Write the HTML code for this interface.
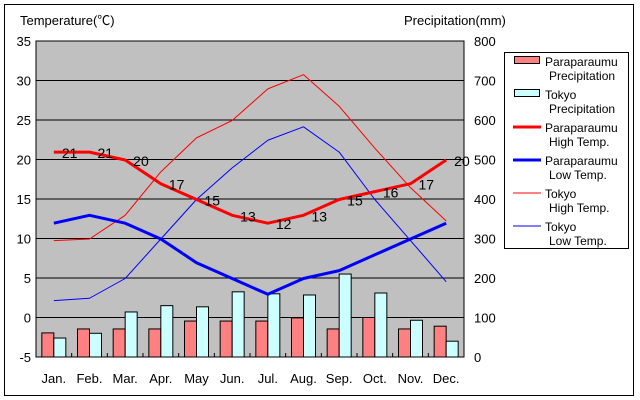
<!DOCTYPE html>
<html><head><meta charset="utf-8"><style>body{margin:0;background:#fff}svg{display:block;font-family:"Liberation Sans","Noto Sans CJK JP",sans-serif}</style></head>
<body><svg id="s" width="640" height="400" xmlns="http://www.w3.org/2000/svg"></svg>
<script>
const s=document.getElementById('s');let h='';
h+='<rect x="4.5" y="4.5" width="629" height="391" fill="#fff" stroke="#000"/>';
const L=36,R=464,T=41,B=357,W=(R-L)/12;
h+=`<rect x="${L}" y="${T}" width="${R-L}" height="${B-T}" fill="#c0c0c0"/>`;
for(let i=0;i<=8;i++){const y=T+i*(B-T)/8;h+=`<line x1="${L}" x2="${R}" y1="${y}" y2="${y}" stroke="#000"/>`;
h+=`<text x="31" y="${y+5}" font-size="13" text-anchor="end">${35-5*i}</text>`;
h+=`<text x="474" y="${y+5}" font-size="13">${800-100*i}</text>`;}
const ty=t=>318-t*7.9, py=p=>B-p*0.395, cx=i=>L+W/2+i*W;
const pp=[61,71,71,71,91,91,91,99,71,100,71,78],tp=[48,60,114,130,127,165,160,157,210,162,93,40];
for(let i=0;i<12;i++){h+=`<rect x="${cx(i)-12}" y="${py(pp[i])}" width="12" height="${B-py(pp[i])}" fill="#ff8080" stroke="#000"/>`;
h+=`<rect x="${cx(i)}" y="${py(tp[i])}" width="12" height="${B-py(tp[i])}" fill="#ccffff" stroke="#000"/>`;
h+=`<line x1="${L+i*W}" x2="${L+i*W}" y1="${B}" y2="${B-4}" stroke="#000"/>`;}
const m=['Jan.','Feb.','Mar.','Apr.','May','Jun.','Jul.','Aug.','Sep.','Oct.','Nov.','Dec.'];
m.forEach((t,i)=>h+=`<text x="${cx(i)}" y="383" font-size="13" text-anchor="middle">${t}</text>`);
h+=`<rect x="${L}" y="${T}" width="${R-L}" height="${B-T}" fill="none" stroke="#000"/>`;
const line=(d,c,w)=>{h+=`<polyline fill="none" stroke="${c}" stroke-width="${w}" stroke-linejoin="round" points="${d.map((v,i)=>cx(i)+','+ty(v)).join(' ')}"/>`;};
const th=[9.8,10,13,18.5,22.8,25,29,30.8,26.8,21.5,16.5,12.3],tl=[2.2,2.5,5,10,15,19,22.5,24.2,21,15,9.8,4.6];
const ph=[21,21,20,17,15,13,12,13,15,16,17,20],pl=[12,13,12,10,7,5,3,5,6,8,10,12];
line(th,'#f00',1);line(tl,'#00f',1);line(ph,'#f00',3);line(pl,'#00f',3);
ph.forEach((v,i)=>h+=`<text x="${cx(i)+8}" y="${ty(v)+6}" font-size="14">${v}</text>`);
h+='<text x="20" y="25" font-size="13">Temperature(℃)</text><text x="404" y="25" font-size="13">Precipitation(mm)</text>';
h+='<rect x="504.5" y="52.5" width="124" height="196" fill="#fff" stroke="#000"/>';
const lg=[['r','#ff8080','Paraparaumu','Precipitation'],['r','#ccffff','Tokyo','Precipitation'],['l3','#f00','Paraparaumu','High Temp.'],['l3','#00f','Paraparaumu','Low Temp.'],['l1','#f00','Tokyo','High Temp.'],['l1','#00f','Tokyo','Low Temp.']];
lg.forEach((e,i)=>{const y=61+i*33;
if(e[0]=='r')h+=`<rect x="514.5" y="${y-4.5}" width="25" height="7" fill="${e[1]}" stroke="#000"/>`;
else h+=`<line x1="513" x2="541" y1="${y}" y2="${y}" stroke="${e[1]}" stroke-width="${e[0]=='l3'?3:1}"/>`;
h+=`<text x="545" y="${y+5}" font-size="12">${e[2]}</text><text x="549" y="${y+19}" font-size="12">${e[3]}</text>`;});
s.innerHTML=h;
</script></body></html>
